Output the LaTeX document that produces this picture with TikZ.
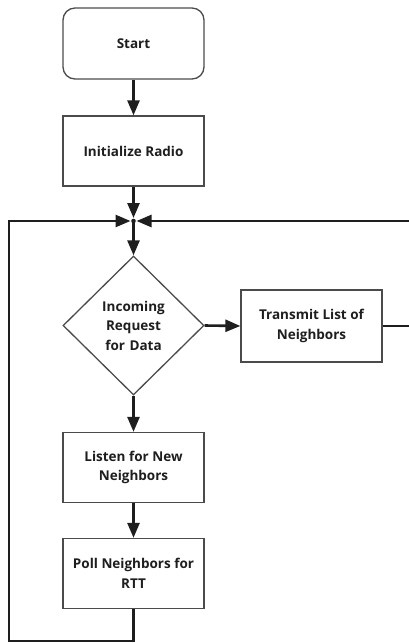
\documentclass[tikz,border=0pt]{standalone}
\usepackage{fontspec}
\setmainfont{Open Sans}
\usetikzlibrary{arrows.meta,shapes.geometric}
\definecolor{ink}{HTML}{1E1E1E}
\begin{document}
\begin{tikzpicture}[x=1pt,y=-1pt,
  txt/.style={font=\fontsize{13.5}{19.5}\selectfont\bfseries,text=ink,align=center},
  box/.style={txt,draw=ink!80,line width=1.3pt,minimum width=141pt,minimum height=70pt,inner sep=2pt},
  dec/.style={txt,draw=ink!80,line width=1.3pt,diamond,minimum width=141pt,minimum height=139pt,
     aspect=1,inner sep=0pt},
  flow/.style={draw=ink,line width=2.6pt,-{Triangle[length=15pt,width=12pt]}},
  wire/.style={draw=ink,line width=2.6pt}]
\useasboundingbox (0,0) rectangle (409,643);
\clip (0,0) rectangle (409,643);
\node[box,rounded corners=12pt,minimum height=71pt] (start) at (133.5,43.5) {Start};
\node[box] (init) at (133.5,151) {Initialize Radio};
\coordinate (j) at (133.5,221);
\fill[ink] (j) circle (2.3pt);
\node[dec,text width=80pt] (req) at (133.5,325.5) {Incoming\\Request\\for Data};
\node[box,minimum height=72pt] (tx) at (311.5,326) {Transmit List of\\Neighbors};
\node[box] (listen) at (133.5,467.5) {Listen for New\\Neighbors};
\node[box] (poll) at (133.5,573.5) {Poll Neighbors for\\RTT};
\coordinate (bl) at (9,641);
\coordinate (br) at (430,326);
\draw[flow] (start) -- (init);
\draw[flow,shorten >=3pt] (init) -- (j);
\draw[flow] (j) -- (req.north);
\draw[flow] (req.east) -- (tx.west);
\draw[flow] (req.south) -- (listen.north);
\draw[flow] (listen) -- (poll);
\draw[flow,shorten >=3pt] (poll.south) |- (bl) |- (j);
\draw[flow,shorten >=3pt] (tx.east) -- (br) |- (j);
\end{tikzpicture}
\end{document}
